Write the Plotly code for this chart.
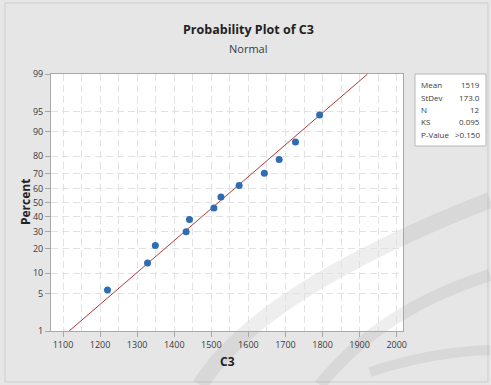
import plotly.graph_objects as go
from statistics import NormalDist

# ---- data ----
c3_values = [1220, 1328, 1349, 1432, 1441, 1507, 1526, 1575, 1643, 1683, 1727, 1792]
fit_mean = 1519.0
fit_stdev = 173.0
percent_ticks = [1, 5, 10, 20, 30, 40, 50, 60, 70, 80, 90, 95, 99]
x_ticks = [1100, 1200, 1300, 1400, 1500, 1600, 1700, 1800, 1900, 2000]
stat_labels = ["Mean", "StDev", "N", "KS", "P-Value"]
stat_values = ["1519", "173.0", "12", "0.095", ">0.150"]

nd = NormalDist()
n = len(c3_values)
xs = sorted(c3_values)
# median ranks (Benard) as plotting positions
zs = [nd.inv_cdf((i + 1 - 0.3) / (n + 0.4)) for i in range(n)]
z_lo, z_hi = nd.inv_cdf(0.01), nd.inv_cdf(0.99)
line_x = [fit_mean + fit_stdev * z_lo, fit_mean + fit_stdev * z_hi]
line_z = [z_lo, z_hi]

FONT = "Open Sans"
TXT = "#3A3A3A"

# plot-area pixel geometry (for placing text in paper coords)
L, R, T, B = 51, 403, 74, 331
def px(x):
    return (x - L) / (R - L)
def py(y):
    return (B - y) / (B - T)

fig = go.Figure()
fig.add_trace(go.Scatter(x=line_x, y=line_z, mode="lines",
                         line=dict(color="#B03A3A", width=1), hoverinfo="skip"))
fig.add_trace(go.Scatter(x=xs, y=zs, mode="markers",
                         marker=dict(color="#2E6DB4", size=7, line=dict(width=0))))

grid = dict(showgrid=True, gridcolor="#E2E2E2", gridwidth=1, griddash="7px,4px")
fig.update_xaxes(range=[1067.6, 2017], tickvals=x_ticks, ticks="outside", ticklen=5,
                 tickcolor="#A8A8A8", showline=True, linecolor="#A8A8A8", mirror=True,
                 zeroline=False, tickfont=dict(family=FONT, size=9, color=TXT),
                 minor=dict(dtick=50, showgrid=True, gridcolor="#E2E2E2", griddash="7px,4px"),
                 **grid)
fig.update_yaxes(range=[z_lo, z_hi], tickvals=[nd.inv_cdf(p / 100) for p in percent_ticks],
                 ticktext=[str(p) for p in percent_ticks], ticks="outside", ticklen=5,
                 tickcolor="#A8A8A8", showline=True, linecolor="#A8A8A8", mirror=True,
                 zeroline=False, tickfont=dict(family=FONT, size=9, color=TXT), **grid)

def note(text, x, y, size, color=TXT, xanchor="center", **kw):
    return dict(text=text, x=x, y=y, xref="paper", yref="paper", xanchor=xanchor,
                yanchor="middle", showarrow=False, font=dict(family=FONT, size=size, color=color), **kw)

ann = [
    note("<b>Probability Plot of C3</b>", px(248), py(30), 12.5, "#222222"),
    note("Normal", px(248), py(49), 11),
    note("<b>C3</b>", px(227), py(361), 12, "#222222"),
    note("<b>Percent</b>", px(25), py(202), 12, "#222222", textangle=-90),
]
for i, (lab, val) in enumerate(zip(stat_labels, stat_values)):
    yy = py(85 + i * 12.3)
    ann.append(note(lab, px(419), yy, 8, xanchor="left"))
    ann.append(note(val, px(482), yy, 8, xanchor="right"))

shapes = [
    # stats box
    dict(type="rect", xref="paper", yref="paper", x0=px(415), x1=px(486), y0=py(146), y1=py(74),
         fillcolor="white", line=dict(color="#B8B8B8", width=1), layer="above"),
    # outer frame
    dict(type="rect", xref="paper", yref="paper", x0=px(5), x1=px(488), y0=py(382), y1=py(3),
         line=dict(color="#CDCDCD", width=1), layer="below"),
]
# faint watermark swooshes
arcs = [
    [(200, 385), (260, 290), (490, 200), 16],
    [(320, 385), (380, 310), (490, 275), 12],
    [(370, 372), (430, 352), (490, 350), 10],
]
for (x0, y0), (cx, cy), (x1, y1), w in arcs:
    path = "M {:.4f},{:.4f} Q {:.4f},{:.4f} {:.4f},{:.4f}".format(px(x0), py(y0), px(cx), py(cy), px(x1), py(y1))
    shapes.append(dict(type="path", xref="paper", yref="paper", path=path,
                       line=dict(color="rgba(120,120,120,0.13)", width=w), layer="below"))

fig.update_layout(width=491, height=385, margin=dict(l=L, r=491 - R, t=T, b=385 - B),
                  paper_bgcolor="#E6E6E6", plot_bgcolor="white", showlegend=False,
                  annotations=ann, shapes=shapes, font=dict(family=FONT))
fig.write_html("out.html", config={"displayModeBar": False},
               post_script="document.body.style.margin='0';document.body.style.overflow='hidden';")
